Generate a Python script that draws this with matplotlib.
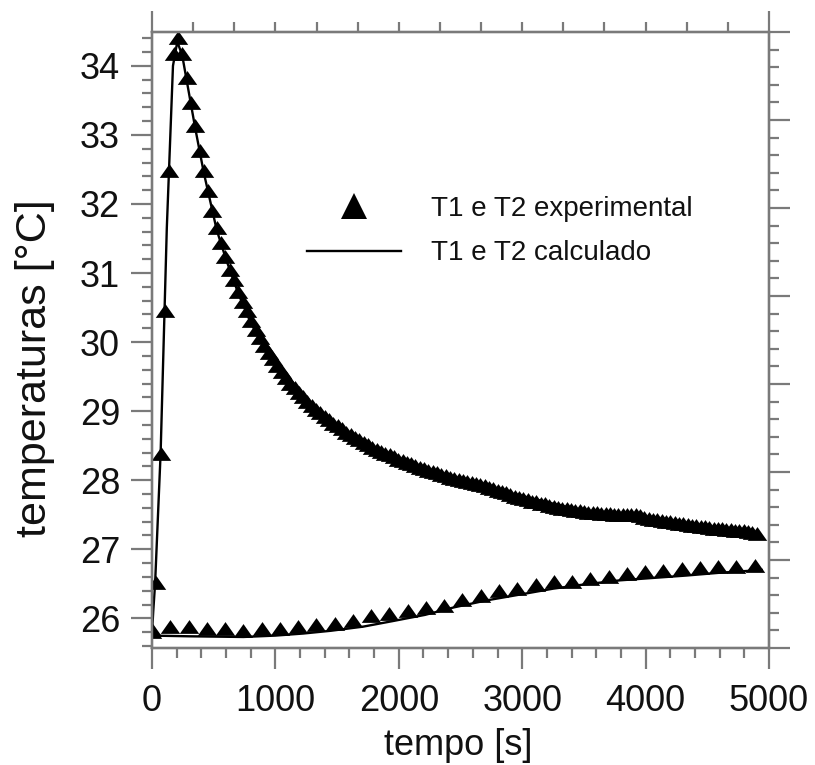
import numpy as np
import matplotlib
matplotlib.use('Agg')
import matplotlib.pyplot as plt
from matplotlib.lines import Line2D
from matplotlib.ticker import MultipleLocator, FixedLocator, NullFormatter

plt.rcParams['font.family'] = ['Liberation Sans', 'DejaVu Sans']

# T1 experimental, sampled every 35 s
t1_time = np.arange(0, 4901, 35)
t1_exp = [
    25.80, 26.48, 28.35, 30.42, 32.45, 34.14, 34.37, 34.14, 33.80, 33.43,
    33.10, 32.74, 32.45, 32.16, 31.87, 31.62, 31.40, 31.20, 31.02, 30.87,
    30.70, 30.55, 30.42, 30.28, 30.15, 30.03, 29.92, 29.82, 29.72, 29.63,
    29.54, 29.45, 29.37, 29.30, 29.23, 29.17, 29.11, 29.05, 28.99, 28.94,
    28.89, 28.84, 28.79, 28.75, 28.71, 28.66, 28.62, 28.58, 28.55, 28.51,
    28.48, 28.44, 28.41, 28.38, 28.35, 28.33, 28.30, 28.27, 28.25, 28.22,
    28.20, 28.18, 28.15, 28.13, 28.11, 28.09, 28.07, 28.05, 28.03, 28.01,
    27.99, 27.97, 27.96, 27.95, 27.93, 27.92, 27.90, 27.88, 27.86, 27.84,
    27.82, 27.80, 27.78, 27.75, 27.73, 27.71, 27.70, 27.68, 27.66, 27.65,
    27.63, 27.62, 27.60, 27.59, 27.57, 27.56, 27.55, 27.54, 27.53, 27.52,
    27.51, 27.50, 27.50, 27.49, 27.48, 27.48, 27.48, 27.47, 27.47, 27.47,
    27.47, 27.46, 27.46, 27.45, 27.43, 27.41, 27.40, 27.39, 27.38, 27.37,
    27.36, 27.35, 27.34, 27.33, 27.32, 27.31, 27.31, 27.30, 27.29, 27.28,
    27.27, 27.27, 27.26, 27.25, 27.25, 27.24, 27.23, 27.23, 27.22, 27.21,
    27.19,
]

# T1 calculated
t1_calc_time = [0, 10, 25, 70, 120, 170, 205, 245, 280, 350, 420, 525, 600, 700,
                800, 940, 1140, 1300, 1500, 1700, 1850, 2100, 2400, 2700, 3000,
                3500, 4000, 4500, 4900]
t1_calc = [25.78, 26.10, 26.50, 28.40, 31.65, 34.00, 34.35, 34.15, 33.80, 33.10,
           32.45, 31.62, 31.20, 30.70, 30.28, 29.82, 29.33, 29.05, 28.75, 28.52,
           28.38, 28.20, 28.02, 27.89, 27.77, 27.55, 27.45, 27.30, 27.19]

# T2 experimental, sampled every 148 s
t2_time = np.arange(0, 4900, 148)
t2_exp = [
    25.78, 25.84, 25.84, 25.81, 25.81, 25.79, 25.81, 25.81, 25.84, 25.87,
    25.89, 25.93, 26.00, 26.04, 26.08, 26.12, 26.15, 26.24, 26.29, 26.36,
    26.40, 26.46, 26.50, 26.50, 26.54, 26.57, 26.61, 26.64, 26.66, 26.68,
    26.70, 26.72, 26.72, 26.73,
]

# T2 calculated
t2_calc_time = [0, 300, 740, 1000, 1226, 1450, 1712, 1950, 2212, 2450, 2712,
                3000, 3252, 3500, 3792, 4100, 4333, 4600, 4941]
t2_calc = [25.75, 25.74, 25.73, 25.75, 25.78, 25.82, 25.88, 25.96, 26.05, 26.16,
           26.26, 26.35, 26.43, 26.49, 26.55, 26.59, 26.62, 26.66, 26.70]

gray = '#7a7a7a'
ink = '#111111'
tri = [(-1, -0.45), (1, -0.45), (0, 0.97)]

fig = plt.figure(figsize=(8.15, 7.65), dpi=100)
ax = fig.add_axes([0.1865, 0.1529, 0.7571, 0.8053])

ax.plot(t1_calc_time, t1_calc, color='black', lw=1.7, zorder=2)
ax.plot(t2_calc_time, t2_calc, color='black', lw=1.7, zorder=2)
ax.plot(t1_time, t1_exp, ls='none', marker=tri, ms=14, color='black', mew=0, zorder=3)
ax.plot(t2_time, t2_exp, ls='none', marker=tri, ms=14, color='black', mew=0, zorder=3)

ax.set_xlim(0, 5000)
ax.set_ylim(25.57, 34.49)
ax.xaxis.set_major_locator(MultipleLocator(1000))
ax.xaxis.set_minor_locator(MultipleLocator(200))
ax.yaxis.set_major_locator(MultipleLocator(1))
ax.yaxis.set_minor_locator(MultipleLocator(0.2))
ax.tick_params(which='major', direction='out', length=15, width=1.6, color=gray,
               labelsize=26, pad=8, labelcolor=ink)
ax.tick_params(which='minor', direction='out', length=7.5, width=1.6, color=gray)
ax.tick_params(axis='x', which='major', pad=11)

for s in ax.spines.values():
    s.set_color(gray)
    s.set_linewidth(1.6)

# top axis ticks
axt = ax.twiny()
axt.set_xlim(0, 15)
axt.xaxis.set_major_locator(FixedLocator([0, 15]))
axt.xaxis.set_minor_locator(MultipleLocator(1))
axt.xaxis.set_major_formatter(NullFormatter())
axt.tick_params(which='major', direction='out', length=15, width=1.6, color=gray)
axt.tick_params(which='minor', direction='out', length=7.5, width=1.6, color=gray)

# right axis ticks
axr = ax.twinx()
axr.set_ylim(0, 7)
axr.yaxis.set_major_locator(MultipleLocator(1))
axr.yaxis.set_minor_locator(MultipleLocator(0.2))
axr.yaxis.set_major_formatter(NullFormatter())
axr.tick_params(which='major', direction='out', length=15, width=1.6, color=gray)
axr.tick_params(which='minor', direction='out', length=7.5, width=1.6, color=gray)

for a in (axt, axr):
    for s in a.spines.values():
        s.set_color(gray)
        s.set_linewidth(1.6)

ax.set_xlabel('tempo [s]', fontsize=26, color=ink)
ax.set_ylabel('temperaturas [°C]', fontsize=31, color=ink)
ax.xaxis.set_label_coords(0.496, -0.13)
ax.yaxis.set_label_coords(-0.157, 0.455)

handles = [
    Line2D([], [], ls='none', marker='^', ms=19, color='black', mew=0),
    Line2D([], [], color='black', lw=1.7),
]
labels = ['T1 e T2 experimental', 'T1 e T2 calculado']
leg = axr.legend(handles, labels, frameon=False, fontsize=20, handlelength=3.4,
                 handletextpad=1.08, labelspacing=0.66,
                 loc='upper left', bbox_to_anchor=(307 / 815, 1 - 196 / 765),
                 bbox_transform=fig.transFigure, borderaxespad=0, borderpad=0)
for txt in leg.get_texts():
    txt.set_color(ink)

fig.savefig('out.png', dpi=100)
